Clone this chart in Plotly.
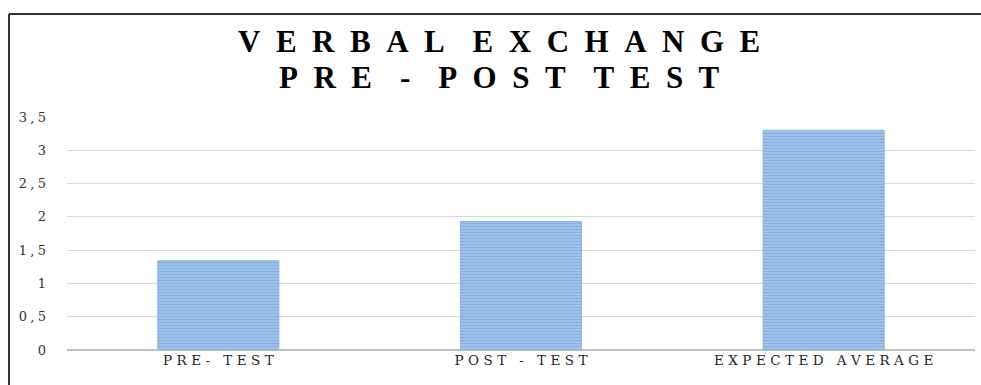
import plotly.graph_objects as go

# Chart data
categories = ["PRE- TEST", "POST - TEST", "EXPECTED AVERAGE"]
scores = [1.34, 1.93, 3.3]
y_ticks = [0, 0.5, 1, 1.5, 2, 2.5, 3, 3.5]
y_tick_labels = ["0", "0,5", "1", "1,5", "2", "2,5", "3", "3,5"]
title_lines = ["VERBAL EXCHANGE", "PRE - POST TEST"]

EN = "\u2002"      # en space
THIN = "\u2009"
THREE = "\u2004"   # three-per-em space
FOUR = "\u2005"    # four-per-em space


def tracked(text, gap, word_gap):
    """Spread the letters of a label apart (Plotly has no letter-spacing)."""
    words = text.split(" ")
    return word_gap.join(gap.join(w) for w in words)


def tracked_all(text, gap):
    return gap.join(text)


W, H = 981, 385
L, R, T, B = 67, 6, 117, 35
plot_w = W - L - R
plot_h = H - T - B


def px_x(px):
    return (px - L) / plot_w


def px_y(py):
    return (H - B - py) / plot_h


fig = go.Figure(
    go.Bar(
        x=categories,
        y=scores,
        width=0.4,
        marker=dict(
            color="#b0cdef",
            line=dict(color="#8ab4e4", width=1),
            pattern=dict(shape="-", fgcolor="#5791d4", bgcolor="#b0cdef",
                         size=3, solidity=0.6, fillmode="overlay"),
        ),
        hoverinfo="skip",
    )
)

fig.update_layout(
    width=W,
    height=H,
    margin=dict(l=L, r=R, t=T, b=B),
    paper_bgcolor="white",
    plot_bgcolor="white",
    showlegend=False,
    font=dict(family="DejaVu Serif", color="#404040"),
)

fig.update_xaxes(
    tickmode="array",
    tickvals=categories,
    ticktext=[tracked_all(c, THREE) for c in categories],
    tickfont=dict(family="DejaVu Serif", size=13.5, color="#262626"),
    showgrid=False,
    showline=False,
    ticks="",
)

fig.update_yaxes(
    range=[0, 3.5],
    tickmode="array",
    tickvals=y_ticks,
    ticktext=[tracked_all(t, FOUR) for t in y_tick_labels],
    tickfont=dict(family="DejaVu Serif", size=13, color="#333333"),
    showgrid=True,
    gridcolor="#d9d9d9",
    gridwidth=1,
    zeroline=True,
    zerolinecolor="#bfbfbf",
    zerolinewidth=2,
    showline=False,
    ticks="",
    ticklabelstandoff=20,
)

# Two-line title
for line, py in zip(title_lines, [42, 77]):
    fig.add_annotation(
        text=tracked(line, EN, EN + THIN + THIN),
        x=px_x(499), y=px_y(py),
        xref="paper", yref="paper",
        xanchor="center", yanchor="middle",
        showarrow=False,
        font=dict(family="Liberation Serif", size=31, color="#000000", weight="bold"),
    )

# Frame around the chart (top and left edges)
fig.add_shape(type="line", xref="paper", yref="paper",
              x0=px_x(9), x1=px_x(W + 5), y0=px_y(14), y1=px_y(14),
              line=dict(color="#333333", width=2))
fig.add_shape(type="line", xref="paper", yref="paper",
              x0=px_x(9), x1=px_x(9), y0=px_y(14), y1=px_y(H + 5),
              line=dict(color="#333333", width=2))

fig.write_html("out.html")
